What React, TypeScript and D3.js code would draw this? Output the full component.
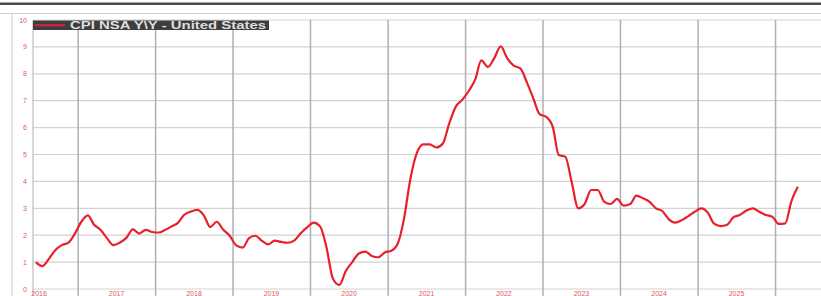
import React, { useEffect, useRef } from "react";
import * as d3 from "d3";

// monthly CPI y/y, Jun 2016 .. Apr 2026
const startYear = 2016;
const startMonth = 5; // June (0-based)
const cpiValues = [
  1.0, 0.85, 1.12, 1.45, 1.63, 1.72, 2.05,
  2.5, 2.74, 2.4, 2.2, 1.9, 1.63, 1.72, 1.9, 2.22, 2.06, 2.2, 2.12,
  2.1, 2.2, 2.32, 2.46, 2.76, 2.88, 2.94, 2.74, 2.3, 2.5, 2.2, 1.98,
  1.62, 1.54, 1.88, 1.98, 1.8, 1.66, 1.8, 1.75, 1.72, 1.8, 2.07, 2.29,
  2.47, 2.32, 1.56, 0.38, 0.15, 0.68, 1.0, 1.32, 1.39, 1.23, 1.18, 1.36,
  1.42, 1.7, 2.58, 4.1, 5.05, 5.38, 5.38, 5.26, 5.41, 6.16, 6.78, 7.03,
  7.36, 7.8, 8.5, 8.26, 8.58, 9.02, 8.58, 8.3, 8.2, 7.7, 7.09, 6.5,
  6.4, 6.03, 4.98, 4.92, 3.98, 3.0, 3.16, 3.68, 3.68, 3.25, 3.16, 3.35,
  3.1, 3.16, 3.47, 3.37, 3.25, 3.0, 2.9, 2.59, 2.47, 2.56, 2.71, 2.87,
  3.0, 2.84, 2.44, 2.34, 2.38, 2.66, 2.75, 2.91, 3.0, 2.87, 2.75, 2.69,
  2.42, 2.44, 3.25, 3.8,
];
const yearTicks = [2016, 2017, 2018, 2019, 2020, 2021, 2022, 2023, 2024, 2025];
const valueTicks = [0, 1, 2, 3, 4, 5, 6, 7, 8, 9, 10];
const legendLabel = "CPI NSA Y\\Y - United States";

const App = () => {
  const svgRef = useRef<SVGSVGElement>(null);

  useEffect(() => {
    const svg = d3.select(svgRef.current);
    svg.selectAll("*").remove();

    const width = 821;
    const height = 296;
    const plotLeft = 33;
    const plotTop = 20;
    const plotBottom = 289;

    svg.attr("width", width).attr("height", height);

    const data = cpiValues.map((v, i) => ({
      date: new Date(startYear, startMonth + i, 16),
      value: v,
    }));

    // Scales
    const x = d3.scaleTime()
      .domain([new Date(2016, 0, 1), new Date(2027, 0, 1)])
      .range([0.5, 0.5 + 11 * 77.5]);

    const y = d3.scaleLinear()
      .domain([0, 10])
      .range([plotBottom, plotTop]);

    // header rules
    svg.append("rect")
      .attr("x", 0).attr("y", 2.5).attr("width", width).attr("height", 2.5)
      .attr("fill", "#4a4a4a");
    svg.append("line")
      .attr("x1", 0).attr("x2", width).attr("y1", 13.5).attr("y2", 13.5)
      .attr("stroke", "#cfcfcf").attr("stroke-width", 1.2);
    svg.append("line")
      .attr("x1", 12).attr("x2", 12).attr("y1", 13.5).attr("y2", height)
      .attr("stroke", "#d6d6d6").attr("stroke-width", 1.2);

    // horizontal grid
    svg.append("g")
      .selectAll("line")
      .data(valueTicks)
      .enter().append("line")
      .attr("x1", plotLeft).attr("x2", width)
      .attr("y1", d => y(d)).attr("y2", d => y(d))
      .attr("stroke", "#d2d2d2").attr("stroke-width", 1.2);

    // vertical grid at year boundaries
    const yearLines = d3.range(2017, 2027).map(yr => new Date(yr, 0, 1));
    svg.append("g")
      .selectAll("line")
      .data(yearLines)
      .enter().append("line")
      .attr("x1", d => x(d)).attr("x2", d => x(d))
      .attr("y1", plotTop).attr("y2", height)
      .attr("stroke", "#b0b0b0").attr("stroke-width", 1.5);

    // left axis
    svg.append("line")
      .attr("x1", plotLeft).attr("x2", plotLeft)
      .attr("y1", plotTop).attr("y2", height)
      .attr("stroke", "#bdbdbd").attr("stroke-width", 1.2);

    // y tick labels
    svg.append("g")
      .selectAll("text")
      .data(valueTicks)
      .enter().append("text")
      .attr("x", 27)
      .attr("y", d => y(d) + 2.5)
      .attr("text-anchor", "end")
      .attr("font-family", "Liberation Sans, Arial, sans-serif")
      .attr("font-size", 7)
      .attr("fill", "#e0566a")
      .text(d => d);

    // x tick labels (centred on the year), squeezed against the bottom edge
    svg.append("g")
      .selectAll("text")
      .data(yearTicks)
      .enter().append("text")
      .attr("x", d => x(new Date(d, 6, 1)))
      .attr("y", 295.5)
      .attr("text-anchor", "middle")
      .attr("font-family", "Liberation Sans, Arial, sans-serif")
      .attr("font-size", 7)
      .attr("fill", "#e0566a")
      .text(d => d);

    // CPI line
    const line = d3.line<{ date: Date; value: number }>()
      .x(d => x(d.date))
      .y(d => y(d.value))
      .curve(d3.curveMonotoneX);

    svg.append("path")
      .datum(data)
      .attr("d", line)
      .attr("fill", "none")
      .attr("stroke", "#e8202c")
      .attr("stroke-width", 2.2)
      .attr("stroke-linejoin", "round");

    // legend
    const legend = svg.append("g").attr("transform", "translate(33,20.5)");
    legend.append("rect")
      .attr("width", 236).attr("height", 9.5)
      .attr("fill", "#3d3d3d");
    legend.append("line")
      .attr("x1", 2).attr("x2", 32).attr("y1", 4.75).attr("y2", 4.75)
      .attr("stroke", "#c0283a").attr("stroke-width", 2.5);
    legend.append("text")
      .attr("x", 37).attr("y", 8.4)
      .attr("font-family", "Liberation Sans, Arial, sans-serif")
      .attr("font-size", 10)
      .attr("font-weight", "bold")
      .attr("fill", "#dedede")
      .attr("textLength", 196)
      .attr("lengthAdjust", "spacingAndGlyphs")
      .text(legendLabel);
  }, []);

  return (
    <svg
      ref={svgRef}
      style={{ position: "absolute", left: 0, top: 0, display: "block", background: "#fff" }}
    ></svg>
  );
};

export default App;
